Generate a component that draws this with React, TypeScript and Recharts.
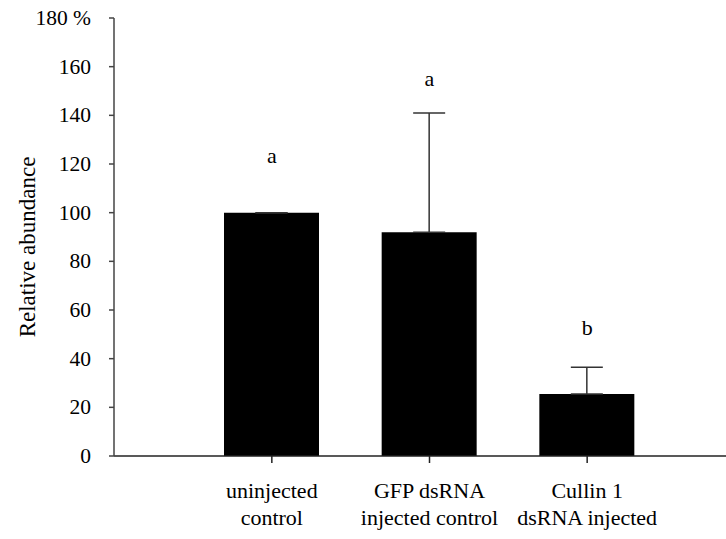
import React from "react";
import {
  ComposedChart,
  Bar,
  ErrorBar,
  Scatter,
  XAxis,
  YAxis,
  Label,
} from "recharts";

const categories = ["uninjected\ncontrol", "GFP dsRNA\ninjected control", "Cullin 1\ndsRNA injected"];
const values = [100, 92, 25.5];
const errorsUp = [0, 49, 11];
const letters = ["a", "a", "b"];
const letterLevels = [123.5, 155, 53];
const yTicks = [0, 20, 40, 60, 80, 100, 120, 140, 160, 180];

const data = categories.map((c, i) => ({
  name: c,
  value: values[i],
  err: [0, errorsUp[i]],
  letter: letters[i],
  letterY: letterLevels[i],
}));

const FONT = "Liberation Serif";
const txt = (fs: number): React.CSSProperties => ({ fontFamily: FONT, fontSize: fs, fill: "#000" });

const XTick = (props: any) => {
  const { x, y, payload } = props;
  const lines = String(payload.value).split("\n");
  return (
    <text x={x} y={y} textAnchor="middle" style={txt(22)}>
      {lines.map((l: string, i: number) => (
        <tspan key={i} x={x} dy={i === 0 ? 33 : 27}>
          {l}
        </tspan>
      ))}
    </text>
  );
};

const YTick = (props: any) => {
  const { x, y, payload } = props;
  const v = payload.value;
  return (
    <text x={x} y={y} textAnchor="end" dominantBaseline="central" style={txt(21.5)}>
      {v === 180 ? "180 %" : String(v)}
    </text>
  );
};

const LetterShape = (props: any) => {
  const { cx, cy, payload } = props;
  return (
    <text x={cx} y={cy} textAnchor="middle" dominantBaseline="central" style={txt(22)}>
      {payload.letter}
    </text>
  );
};

export default function App() {
  return (
    <div style={{ position: "absolute", left: 0, top: 0, background: "#fff" }}>
      <ComposedChart
        width={726}
        height={539}
        data={data}
        margin={{ top: 18, right: 0, bottom: 0, left: 0 }}
      >
        <XAxis
          dataKey="name"
          type="category"
          padding={{ left: 79, right: 60 }}
          height={83}
          axisLine={{ stroke: "#222", strokeWidth: 1.5 }}
          tickLine={{ stroke: "#222", strokeWidth: 1.5 }}
          tickSize={7}
          tick={<XTick />}
          interval={0}
        />
        <YAxis
          type="number"
          domain={[0, 180]}
          ticks={yTicks}
          width={114}
          axisLine={{ stroke: "#444", strokeWidth: 1.5 }}
          tickLine={{ stroke: "#444", strokeWidth: 1.5 }}
          tickSize={5}
          tickMargin={18}
          tick={<YTick />}
          interval={0}
        >
          <Label
            content={(p: any) => {
              const vb = p.viewBox;
              const cx = 27;
              const cy = vb.y + vb.height / 2 + 10;
              return (
                <text
                  x={cx}
                  y={cy}
                  transform={`rotate(-90 ${cx} ${cy})`}
                  textAnchor="middle"
                  dominantBaseline="central"
                  style={txt(23)}
                >
                  Relative abundance
                </text>
              );
            }}
          />
        </YAxis>
        <Bar dataKey="value" fill="#000" barSize={95} isAnimationActive={false}>
          <ErrorBar dataKey="err" width={16} stroke="#333" strokeWidth={1.5} isAnimationActive={false} />
        </Bar>
        <Scatter dataKey="letterY" shape={<LetterShape />} isAnimationActive={false} />
      </ComposedChart>
    </div>
  );
}
